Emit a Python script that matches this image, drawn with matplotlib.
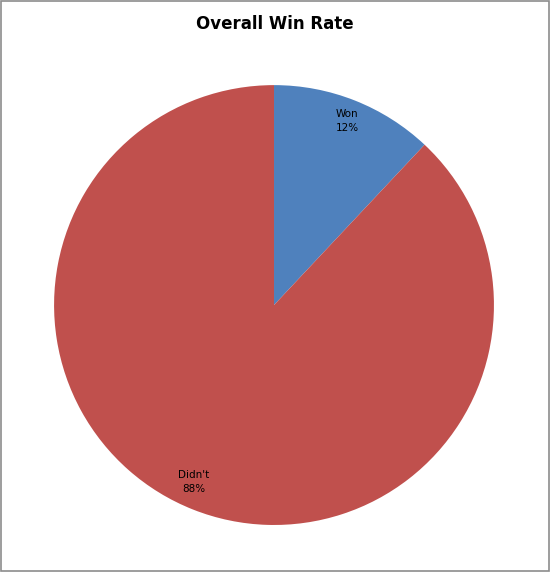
import matplotlib.pyplot as plt
from matplotlib.patches import Rectangle

# Overall win rate data
categories = ['Won', "Didn't"]
percentages = [12, 88]
colors = ['#4F81BD', '#C0504D']

fig = plt.figure(figsize=(5.5, 5.72), dpi=100)
ax = fig.add_axes([0.0982, 0.0822, 0.8, 0.769])

labels = [f'{c}\n{p}%' for c, p in zip(categories, percentages)]
wedges, texts = ax.pie(percentages, labels=labels, colors=colors,
                       startangle=90, counterclock=False, radius=1.0,
                       labeldistance=0.9,
                       wedgeprops=dict(linewidth=0),
                       textprops=dict(fontsize=7.5, color='black'))
for t in texts:
    t.set_horizontalalignment('center')
    t.set_verticalalignment('center')
    t.set_linespacing(1.5)
# nudge the big slice label a little left, like the original
x, y = texts[1].get_position()
texts[1].set_position((x - 0.035, y + 0.03))

ax.set_xlim(-1, 1)
ax.set_ylim(-1, 1)
ax.set_aspect('equal')

fig.text(0.5, 0.958, 'Overall Win Rate', ha='center', va='center',
         fontsize=12, fontweight='bold')

# thin gray frame around the whole chart
fig.patches.append(Rectangle((0.001, 0.001), 0.997, 0.997, transform=fig.transFigure,
                             fill=False, edgecolor='#8c8c8c', linewidth=1.2))

fig.savefig('out.png', dpi=100)
